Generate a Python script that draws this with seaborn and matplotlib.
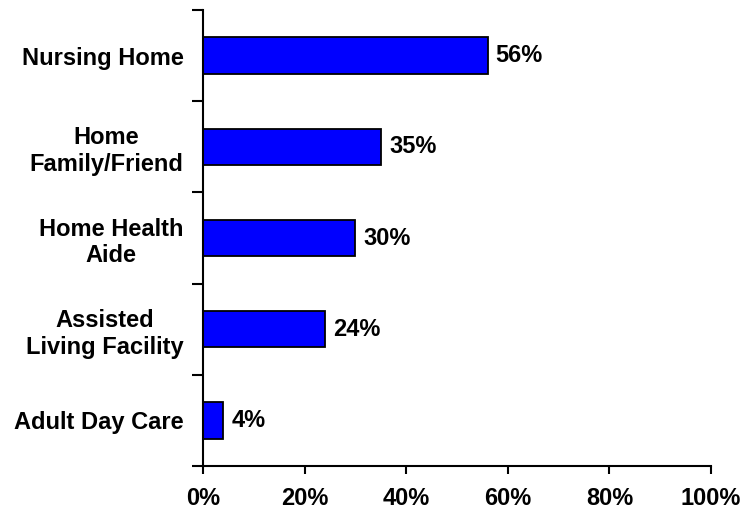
import numpy as np
import pandas as pd
import matplotlib
matplotlib.use('Agg')
import matplotlib.pyplot as plt
import seaborn as sns
from matplotlib.ticker import FixedLocator

categories = ['Nursing Home', 'Home\nFamily/Friend', 'Home Health\nAide',
              'Assisted\nLiving Facility', 'Adult Day Care']
values = [56, 35, 30, 24, 4]
x_ticks = [0, 20, 40, 60, 80, 100]

sns.set_style('white')
plt.rcParams['font.family'] = ['Liberation Sans', 'DejaVu Sans']
plt.rcParams['font.weight'] = 'bold'
plt.rcParams['text.color'] = 'black'
plt.rcParams['xtick.color'] = 'black'
plt.rcParams['ytick.color'] = 'black'

FS = 17

df = pd.DataFrame({'cat': categories, 'val': values})

fig = plt.figure(figsize=(7.45, 5.17), dpi=100)
ax = fig.add_axes([0.2725, 0.0986, 0.6819, 0.8821])

sns.barplot(data=df, x='val', y='cat', orient='h', color='#0000FF',
            saturation=1, width=0.4, edgecolor='black', linewidth=1.3, ax=ax)

ax.set_xlim(0, 100)
ax.set_ylim(len(categories) - 0.5, -0.5)
ax.set_xticks(x_ticks)
ax.set_xticklabels([f'{t}%' for t in x_ticks], fontsize=FS, fontweight='bold', color='black')
ax.set_xlabel('')
ax.set_ylabel('')

# category labels at centers, ticks at boundaries
ax.yaxis.set_minor_locator(FixedLocator(np.arange(-0.5, len(categories), 1.0)))
ax.tick_params(axis='y', which='major', length=0, pad=14, labelsize=FS, labelcolor='black')
ax.tick_params(axis='y', which='minor', length=8, width=1.5, direction='out', color='black', left=True)
ax.tick_params(axis='x', which='major', length=6, width=1.5, direction='out', color='black', pad=9, bottom=True)
for lab in ax.get_yticklabels():
    lab.set_fontweight('bold')
    lab.set_multialignment('center')
    lab.set_linespacing(1.22)

for s in ['top', 'right']:
    ax.spines[s].set_visible(False)
for s in ['left', 'bottom']:
    ax.spines[s].set_linewidth(1.5)
    ax.spines[s].set_color('black')

for i, v in enumerate(values):
    ax.text(v + 1.6, i, f'{v}%', va='center', ha='left', fontsize=FS, fontweight='bold', color='black')

fig.savefig('out.png', dpi=100)
